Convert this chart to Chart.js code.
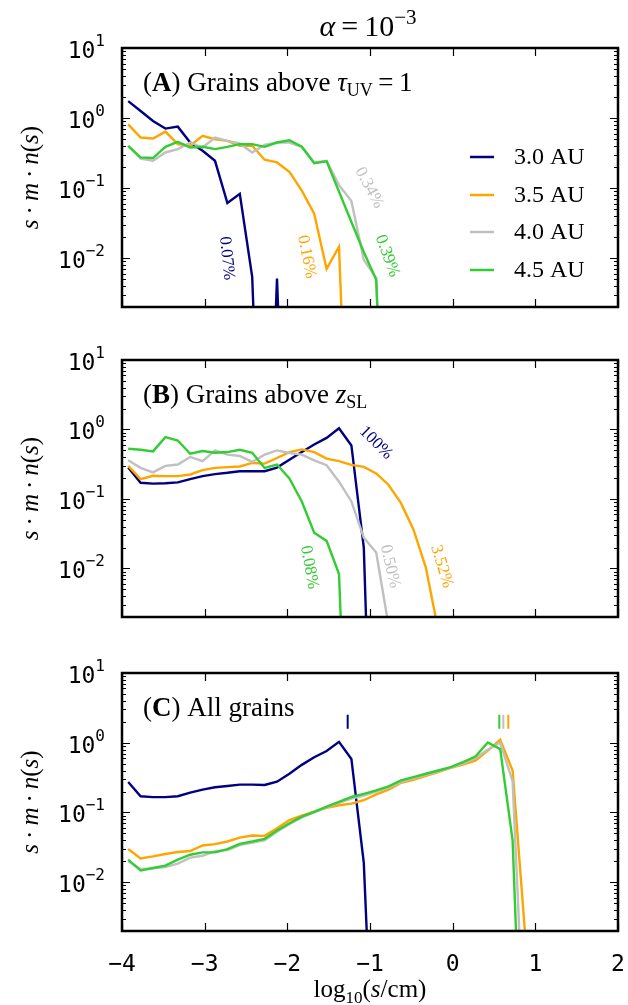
<!DOCTYPE html>
<html>
<head>
<meta charset="utf-8">
<script src="https://cdn.jsdelivr.net/npm/chart.js@4.4.1/dist/chart.umd.min.js"></script>
<style>
  html, body { margin: 0; padding: 0; background: #fff; }
  #wrap { position: relative; width: 628px; height: 1005px; }
  .panel { position: absolute; left: 0; width: 628px; }
</style>
</head>
<body>
<div id="wrap">
  <div class="panel" style="top:0;height:320px"><canvas id="chartA"></canvas></div>
  <div class="panel" style="top:320px;height:320px"><canvas id="chartB"></canvas></div>
  <div class="panel" style="top:640px;height:365px"><canvas id="chartC"></canvas></div>
</div>
<script>
// bin centres, log10(s/cm)
const logS = [-3.925, -3.775, -3.625, -3.475, -3.325, -3.175, -3.025, -2.875, -2.725, -2.575,
  -2.425, -2.275, -2.125, -1.975, -1.825, -1.675, -1.525, -1.375, -1.225, -1.075,
  -0.925, -0.775, -0.625, -0.475, -0.325, -0.175, -0.025, 0.125, 0.275, 0.425,
  0.575, 0.725, 0.875, 1.025];

const seriesLabels = ['3.0 AU', '3.5 AU', '4.0 AU', '4.5 AU'];
const seriesColors = ['#000080', '#ffa500', '#c0c0c0', '#32cd32'];

// (A) grains above tau_UV = 1
const blueA = [1.74, 1.26, 0.906, 0.706, 0.753, 0.447, 0.340, 0.245, 0.061, 0.0826,
  0.0054, 1e-7, 0.0051, 1e-7];
const orangeA = [0.813, 0.526, 0.509, 0.640, 0.423, 0.401, 0.556, 0.498, 0.472, 0.401,
  0.401, 0.254, 0.232, 0.171, 0.092, 0.043, 0.007, 0.0145, 4e-7];
const grayA = [0.40, 0.262, 0.245, 0.322, 0.360, 0.447, 0.379, 0.526, 0.472, 0.433,
  0.322, 0.414, 0.447, 0.447, 0.388, 0.232, 0.245, 0.11, 0.065, 0.0094, 0.0052, 3e-7];
const greenA = [0.401, 0.274, 0.268, 0.388, 0.457, 0.379, 0.388, 0.360, 0.388, 0.423,
  0.423, 0.388, 0.447, 0.482, 0.388, 0.227, 0.24, 0.089, 0.0327, 0.0122, 0.0049, 2.5e-7];

// (B) grains above z_SL
const blueB = [0.283, 0.171, 0.166, 0.168, 0.173, 0.193, 0.213, 0.228, 0.238, 0.251,
  0.251, 0.251, 0.283, 0.368, 0.473, 0.608, 0.757, 1.04, 0.589, 0.020, 5e-8];
const orangeB = [0.299, 0.193, 0.216, 0.213, 0.213, 0.225, 0.260, 0.280, 0.287, 0.293,
  0.330, 0.323, 0.389, 0.473, 0.517, 0.473, 0.38, 0.35, 0.31, 0.29,
  0.233, 0.159, 0.0871, 0.0364, 0.0104, 0.0013];
const grayB = [0.360, 0.280, 0.241, 0.299, 0.313, 0.402, 0.349, 0.500, 0.434, 0.415,
  0.341, 0.434, 0.500, 0.458, 0.434, 0.360, 0.306, 0.177, 0.092, 0.0277,
  0.0169, 0.0015];
const greenB = [0.528, 0.511, 0.484, 0.774, 0.694, 0.448, 0.489, 0.463, 0.473, 0.511,
  0.463, 0.280, 0.313, 0.198, 0.092, 0.0327, 0.0249, 0.0083, 2.5e-7];

// (C) all grains
const blueC = [0.273, 0.171, 0.166, 0.166, 0.171, 0.193, 0.213, 0.230, 0.240, 0.251,
  0.251, 0.248, 0.276, 0.359, 0.482, 0.619, 0.762, 1.03, 0.586, 0.0189, 1.3e-6];
const orangeC = [0.0299, 0.0220, 0.0235, 0.0254, 0.0271, 0.0280, 0.0337, 0.0352, 0.0384, 0.0437,
  0.0467, 0.0462, 0.0594, 0.078, 0.090, 0.103, 0.117, 0.127, 0.134, 0.150,
  0.182, 0.213, 0.267, 0.295, 0.336, 0.379, 0.437, 0.487, 0.555, 0.77,
  1.10, 0.40, 0.0019];
const grayC = [0.0200, 0.0155, 0.0158, 0.0165, 0.0185, 0.0225, 0.0240, 0.0280, 0.0290, 0.0340,
  0.0370, 0.0400, 0.0530, 0.068, 0.085, 0.100, 0.118, 0.138, 0.158, 0.175,
  0.200, 0.228, 0.275, 0.310, 0.348, 0.390, 0.437, 0.505, 0.600, 0.80,
  1.00, 0.28, 3e-5];
const greenC = [0.0211, 0.0147, 0.0160, 0.0173, 0.0211, 0.0248, 0.0268, 0.0268, 0.0299, 0.0356,
  0.0384, 0.0419, 0.0551, 0.070, 0.087, 0.102, 0.121, 0.142, 0.167, 0.185,
  0.208, 0.237, 0.289, 0.322, 0.359, 0.400, 0.447, 0.526, 0.633, 1.01,
  0.81, 0.040, 7e-7];

// little vertical markers above the peaks in panel C
const markerX = [-1.27, 0.564, 0.613, 0.673];
const markerY = [2.0, 2.0, 2.0, 2.0];
const markerColors = ['#000080', '#32cd32', '#c0c0c0', '#ffa500'];

// percentage notes: text, series index, anchor (data coords), angle
const notesA = [
  { text: '0.07%', s: 0, x: -2.733, y: 0.0099, rot: 84 },
  { text: '0.16%', s: 1, x: -1.766, y: 0.0104, rot: 79 },
  { text: '0.34%', s: 2, x: -1.008, y: 0.1007, rot: 62 },
  { text: '0.39%', s: 3, x: -0.791, y: 0.0107, rot: 70 }
];
const notesB = [
  { text: '100%', s: 0, x: -0.928, y: 0.643, rot: 45 },
  { text: '0.08%', s: 3, x: -1.734, y: 0.0104, rot: 80 },
  { text: '0.50%', s: 2, x: -0.758, y: 0.0107, rot: 77 },
  { text: '3.52%', s: 1, x: -0.133, y: 0.0107, rot: 73 }
];

const xTicks = [-4, -3, -2, -1, 0, 1, 2];
const yTicks = [0.01, 0.1, 1, 10];
const yMin = 0.002, yMax = 10;

const SERIF = '"Liberation Serif", "DejaVu Serif", serif';
const MONO = '"DejaVu Sans Mono", monospace';

function f(size, style) { return (style ? style + ' ' : '') + size + 'px ' + SERIF; }

// draws a run of text pieces [text, font, dy]
function drawRich(ctx, parts, x, y, align) {
  let w = 0;
  parts.forEach(p => { ctx.font = p[1]; w += ctx.measureText(p[0]).width; });
  let cx = align === 'center' ? x - w / 2 : align === 'right' ? x - w : x;
  ctx.textAlign = 'left';
  parts.forEach(p => {
    ctx.font = p[1];
    ctx.fillText(p[0], cx, y + (p[2] || 0));
    cx += ctx.measureText(p[0]).width;
  });
}

const panels = [
  {
    id: 'chartA', series: [blueA, orangeA, grayA, greenA], pad: { top: 48, bottom: 13 },
    label: [['(', f(27)], ['A', f(27, 'bold')], [')', f(27)], [' Grains above ', f(27)],
      ['\u03c4', f(27, 'italic')], ['UV', f(18), 5], ['\u2009=\u2009', f(27)], ['1', f(27)]],
    notes: notesA, legend: true, title: true
  },
  {
    id: 'chartB', series: [blueB, orangeB, grayB, greenB], pad: { top: 40, bottom: 23 },
    label: [['(', f(27)], ['B', f(27, 'bold')], [')', f(27)], [' Grains above ', f(27)],
      ['z', f(27, 'italic')], ['SL', f(18), 5]],
    notes: notesB
  },
  {
    id: 'chartC', series: [blueC, orangeC, grayC, greenC], pad: { top: 33, bottom: 74 },
    label: [['(', f(27)], ['C', f(27, 'bold')], [')', f(27)], [' All grains', f(27)]],
    notes: [], markers: true, xLabels: true
  }
];

function decorPlugin(panel) {
  return {
    id: 'decor',
    afterDatasetsDraw(chart) {
      const ctx = chart.ctx;
      const xs = chart.scales.x, ys = chart.scales.y;
      const a = chart.chartArea;
      ctx.save();
      ctx.strokeStyle = '#000';
      ctx.fillStyle = '#000';

      // inward ticks
      ctx.lineWidth = 1.2;
      ctx.beginPath();
      xTicks.forEach(v => {
        const px = Math.round(xs.getPixelForValue(v)) + 0.5;
        ctx.moveTo(px, a.top); ctx.lineTo(px, a.top + 8);
        ctx.moveTo(px, a.bottom); ctx.lineTo(px, a.bottom - 8);
      });
      for (let d = -3; d <= 1; d++) {
        for (let m = 1; m <= 9; m++) {
          const v = m * Math.pow(10, d);
          if (v < yMin || v > yMax) continue;
          const py = Math.round(ys.getPixelForValue(v)) + 0.5;
          const len = m === 1 ? 8 : 4;
          ctx.moveTo(a.left, py); ctx.lineTo(a.left + len, py);
          ctx.moveTo(a.right, py); ctx.lineTo(a.right - len, py);
        }
      }
      ctx.stroke();
      ctx.lineWidth = 2.5;
      ctx.strokeRect(a.left, a.top, a.right - a.left, a.bottom - a.top);

      // y tick labels 10^n
      ctx.textBaseline = 'alphabetic';
      yTicks.forEach(v => {
        const py = ys.getPixelForValue(v);
        const e = Math.round(Math.log10(v));
        const sup = e < 0 ? '\u2212' + (-e) : String(e);
        drawRich(ctx, [['10', '23px ' + MONO], [sup, '16px ' + MONO, -12]], 105, py + 10, 'right');
      });

      // y axis title
      const mid = (a.top + a.bottom) / 2;
      ctx.save();
      ctx.translate(38, mid);
      ctx.rotate(-Math.PI / 2);
      drawRich(ctx, [['s', f(25, 'italic')], ['\u2009\u00b7\u2009', f(25)], ['m', f(25, 'italic')],
        ['\u2009\u00b7\u2009', f(25)], ['n', f(25, 'italic')], ['(', f(25)], ['s', f(25, 'italic')],
        [')', f(25)]], 0, 0, 'center');
      ctx.restore();

      // panel label
      drawRich(ctx, panel.label, 143, a.top + 43, 'left');

      // percentage notes
      panel.notes.forEach(n => {
        ctx.save();
        ctx.translate(xs.getPixelForValue(n.x), ys.getPixelForValue(n.y));
        ctx.rotate(n.rot * Math.PI / 180);
        ctx.fillStyle = seriesColors[n.s];
        ctx.font = f(17);
        ctx.textAlign = 'center';
        ctx.textBaseline = 'middle';
        ctx.fillText(n.text, 0, 0);
        ctx.restore();
      });

      if (panel.legend) {
        const rows = [157, 195, 232, 270];
        seriesLabels.forEach((lab, i) => {
          ctx.strokeStyle = seriesColors[i];
          ctx.lineWidth = 2.5;
          ctx.beginPath();
          ctx.moveTo(470, rows[i]); ctx.lineTo(494, rows[i]);
          ctx.stroke();
          ctx.fillStyle = '#000';
          ctx.font = f(24);
          ctx.textAlign = 'left';
          ctx.textBaseline = 'middle';
          ctx.fillText(lab, 514, rows[i] + 1);
        });
        ctx.textBaseline = 'alphabetic';
        ctx.fillStyle = '#000';
        drawRich(ctx, [['\u03b1', f(30, 'italic')], ['\u2009=\u2009', f(30)], ['10', f(30)],
          ['\u22123', f(21), -12]], 368, 36, 'center');
      }

      if (panel.xLabels) {
        ctx.fillStyle = '#000';
        ctx.textBaseline = 'alphabetic';
        ctx.textAlign = 'center';
        ctx.font = '23px ' + MONO;
        xTicks.forEach(v => {
          const t = v < 0 ? '\u2212' + (-v) : String(v);
          ctx.fillText(t, xs.getPixelForValue(v), a.bottom + 40);
        });
        drawRich(ctx, [['log', f(25)], ['10', f(17), 6], ['(', f(25)], ['s', f(25, 'italic')],
          ['/cm)', f(25)]], (a.left + a.right) / 2, a.bottom + 66, 'center');
      }
      ctx.restore();
    }
  };
}

panels.forEach(panel => {
  const datasets = panel.series.map((vals, i) => ({
    label: seriesLabels[i],
    data: vals.map((v, k) => ({ x: logS[k], y: v })),
    borderColor: seriesColors[i],
    borderWidth: 2.4,
    pointRadius: 0,
    tension: 0,
    fill: false,
    order: 4 - i
  }));
  if (panel.markers) {
    datasets.push({
      type: 'scatter',
      label: 'markers',
      data: markerX.map((x, k) => ({ x, y: markerY[k] })),
      pointStyle: 'line',
      pointRotation: 90,
      pointRadius: 7,
      pointBorderWidth: 2,
      pointBorderColor: markerColors,
      borderColor: markerColors,
      order: 0
    });
  }
  new Chart(document.getElementById(panel.id).getContext('2d'), {
    type: 'line',
    data: { datasets },
    options: {
      responsive: true,
      maintainAspectRatio: false,
      animation: false,
      layout: { padding: { left: 122, right: 10, top: panel.pad.top, bottom: panel.pad.bottom } },
      plugins: { legend: { display: false }, tooltip: { enabled: false } },
      scales: {
        x: { type: 'linear', min: -4, max: 2, display: false },
        y: { type: 'logarithmic', min: yMin, max: yMax, display: false }
      }
    },
    plugins: [decorPlugin(panel)]
  });
});
</script>
</body>
</html>
